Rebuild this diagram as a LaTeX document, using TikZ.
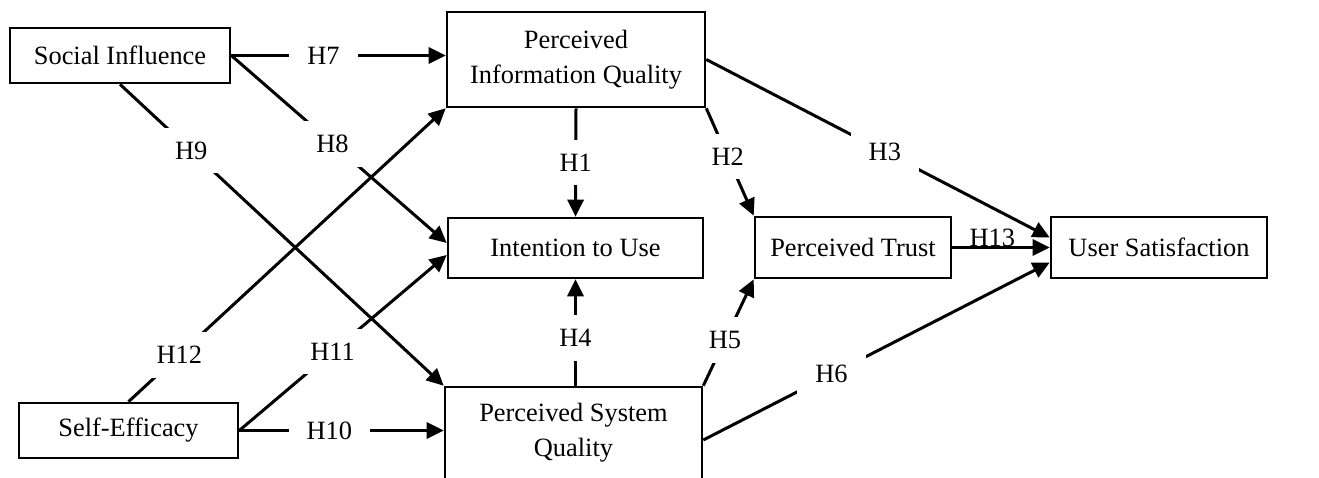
\documentclass[tikz,border=0pt]{standalone}
\usepackage{fontspec}
\setmainfont{Liberation Serif}
\usetikzlibrary{arrows.meta,calc}
\newcommand\diagfont{\fontsize{26.4}{35}\selectfont}
\begin{document}
\begin{tikzpicture}[x=1pt,y=-1pt,
  box/.style={draw,line width=2.6pt,inner sep=0pt,align=center,font=\diagfont},
  conn/.style={line width=3pt,-{Triangle[length=17pt,width=16pt]}},
  hl/.style={fill=white,inner xsep=18pt,inner ysep=14pt,font=\diagfont},
  hlplain/.style={inner sep=0pt,font=\diagfont}]
\useasboundingbox (0,0) rectangle (1319,477);
\clip (0,0) rectangle (1319,477);

\node[box,minimum width=220pt,minimum height=55pt] (si) at (120,55.5) {Social Influence};
\node[box,minimum width=258pt,minimum height=95pt] (pq) at (576,59.5) {Perceived\\Information Quality};
\node[box,minimum width=255pt,minimum height=60pt] (itu) at (575.5,248) {Intention to Use};
\node[box,minimum width=196pt,minimum height=61pt] (pt) at (853,247.5) {Perceived Trust};
\node[box,minimum width=216pt,minimum height=61pt] (us) at (1159,247.5) {User Satisfaction};
\node[box,minimum width=257pt,minimum height=92pt] (psq) at (573.5,433) {Perceived System\\Quality};
\node[box,minimum width=219pt,minimum height=55pt] (se) at (128.5,430.5) {Self-Efficacy};

\draw[conn] (si.east) -- node[hl,pos=0.43] {H7} (si.east -| pq.west);
\draw[conn] (si.east) -- node[hl,pos=0.47] {H8} ($(itu.west)+(0,-5)$);
\draw[conn] (si.south) -- node[hl,pos=0.22] {H9} (psq.north west);
\draw[conn] (se.north) -- node[hl,pos=0.16] {H12} (pq.south west);
\draw[conn] (se.east) -- node[hl,pos=0.45] {H11} ($(itu.west)+(0,7)$);
\draw[conn] (se.east) -- node[hl,pos=0.44] {H10} (se.east -| psq.west);
\draw[conn] (pq.south) -- node[hl,pos=0.5] {H1} (itu.north);
\draw[conn] (itu.south |- psq.north) -- node[hl,pos=0.45] {H4} (itu.south);
\draw[conn] (pq.south east) -- node[hl,pos=0.45] {H2} (pt.north west);
\draw[conn] (psq.north east) -- node[hl,pos=0.43] {H5} (pt.south west);
\draw[conn] (pq.east) -- node[hl,pos=0.52] {H3} ($(us.west)+(0,-10)$);
\draw[conn] (pt.east) -- node[hlplain,pos=0.41,anchor=base,yshift=1pt] {H13} (us.west);
\draw[conn] ($(psq.east)+(0,7)$) -- node[hl,pos=0.37] {H6} ($(us.west)+(0,15)$);
\end{tikzpicture}
\end{document}
